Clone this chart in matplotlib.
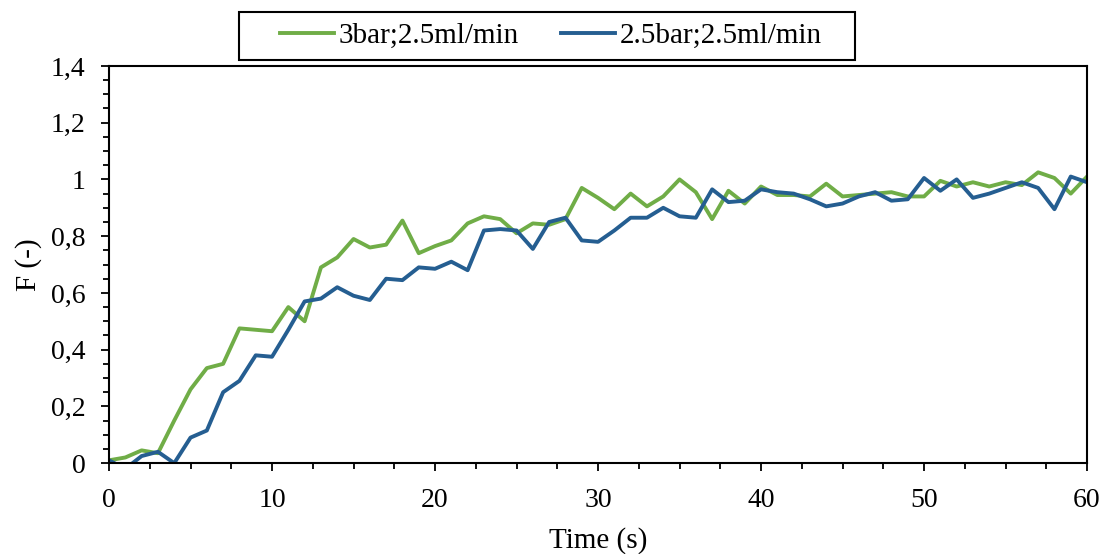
import matplotlib.pyplot as plt
from matplotlib.patches import Rectangle
from matplotlib.ticker import MultipleLocator, FuncFormatter

time_s = list(range(61))

f_3bar = [0.01, 0.02, 0.045, 0.035, 0.15, 0.26, 0.335, 0.35, 0.475, 0.47,
          0.465, 0.55, 0.50, 0.69, 0.725, 0.79, 0.76, 0.77, 0.855, 0.74,
          0.765, 0.785, 0.845, 0.87, 0.86, 0.81, 0.845, 0.84, 0.86, 0.97,
          0.935, 0.895, 0.95, 0.905, 0.94, 1.0, 0.955, 0.86, 0.96, 0.915,
          0.975, 0.945, 0.945, 0.94, 0.985, 0.94, 0.945, 0.95, 0.955, 0.94,
          0.94, 0.995, 0.975, 0.99, 0.975, 0.99, 0.98, 1.025, 1.005, 0.95,
          1.01]

f_25bar = [0.01, -0.02, 0.025, 0.04, 0.0, 0.09, 0.115, 0.25, 0.29, 0.38,
           0.375, 0.47, 0.57, 0.58, 0.62, 0.59, 0.575, 0.65, 0.645, 0.69,
           0.685, 0.71, 0.68, 0.82, 0.825, 0.82, 0.755, 0.85, 0.865, 0.785,
           0.78, 0.82, 0.865, 0.865, 0.9, 0.87, 0.865, 0.965, 0.92, 0.925,
           0.965, 0.955, 0.95, 0.93, 0.905, 0.915, 0.94, 0.955, 0.925, 0.93,
           1.005, 0.96, 1.0, 0.935, 0.95, 0.97, 0.99, 0.97, 0.895, 1.01,
           0.99]

plt.rcParams['font.family'] = ['Liberation Serif', 'DejaVu Serif']

fig = plt.figure(figsize=(11.08, 5.54), dpi=100)
ax = fig.add_axes([0.0984, 0.164, 0.8827, 0.717])

ax.plot(time_s, f_3bar, color='#70AD47', lw=2.8, label='3bar;2.5ml/min')
ax.plot(time_s, f_25bar, color='#255E91', lw=2.8, label='2.5bar;2.5ml/min')

ax.set_xlim(0, 60)
ax.set_ylim(0, 1.4)
ax.xaxis.set_major_locator(MultipleLocator(10))
ax.xaxis.set_minor_locator(MultipleLocator(2.5))
ax.yaxis.set_major_locator(MultipleLocator(0.2))
ax.yaxis.set_minor_locator(MultipleLocator(0.05))
ax.yaxis.set_major_formatter(FuncFormatter(lambda v, p: '{:g}'.format(round(v, 2)).replace('.', ',')))

ax.tick_params(which='major', direction='out', length=6, width=1.3, labelsize=20, colors='black')
ax.tick_params(which='minor', direction='out', length=4, width=1.3)
ax.tick_params(axis='x', which='major', pad=12)
ax.tick_params(axis='y', which='major', pad=11)
for s in ax.spines.values():
    s.set_linewidth(1.5)
    s.set_color('black')

ax.set_xlabel('Time (s)', fontsize=21, labelpad=10)
ax.set_ylabel('F (-)', fontsize=21, labelpad=6)

# legend box drawn separately so its side padding can differ from the top/bottom
fig.patches.append(Rectangle((239 / 1108, 1 - 60 / 554), 616 / 1108, 48 / 554,
                             transform=fig.transFigure, fill=False,
                             edgecolor='black', linewidth=1.5))
leg = fig.legend(loc='center', bbox_to_anchor=(551 / 1108, 1 - 36 / 554), ncol=2, fontsize=21,
                 frameon=False, handlelength=1.85, columnspacing=1.44,
                 borderpad=0.2, handletextpad=0.17)

fig.savefig('out.png', dpi=100)
